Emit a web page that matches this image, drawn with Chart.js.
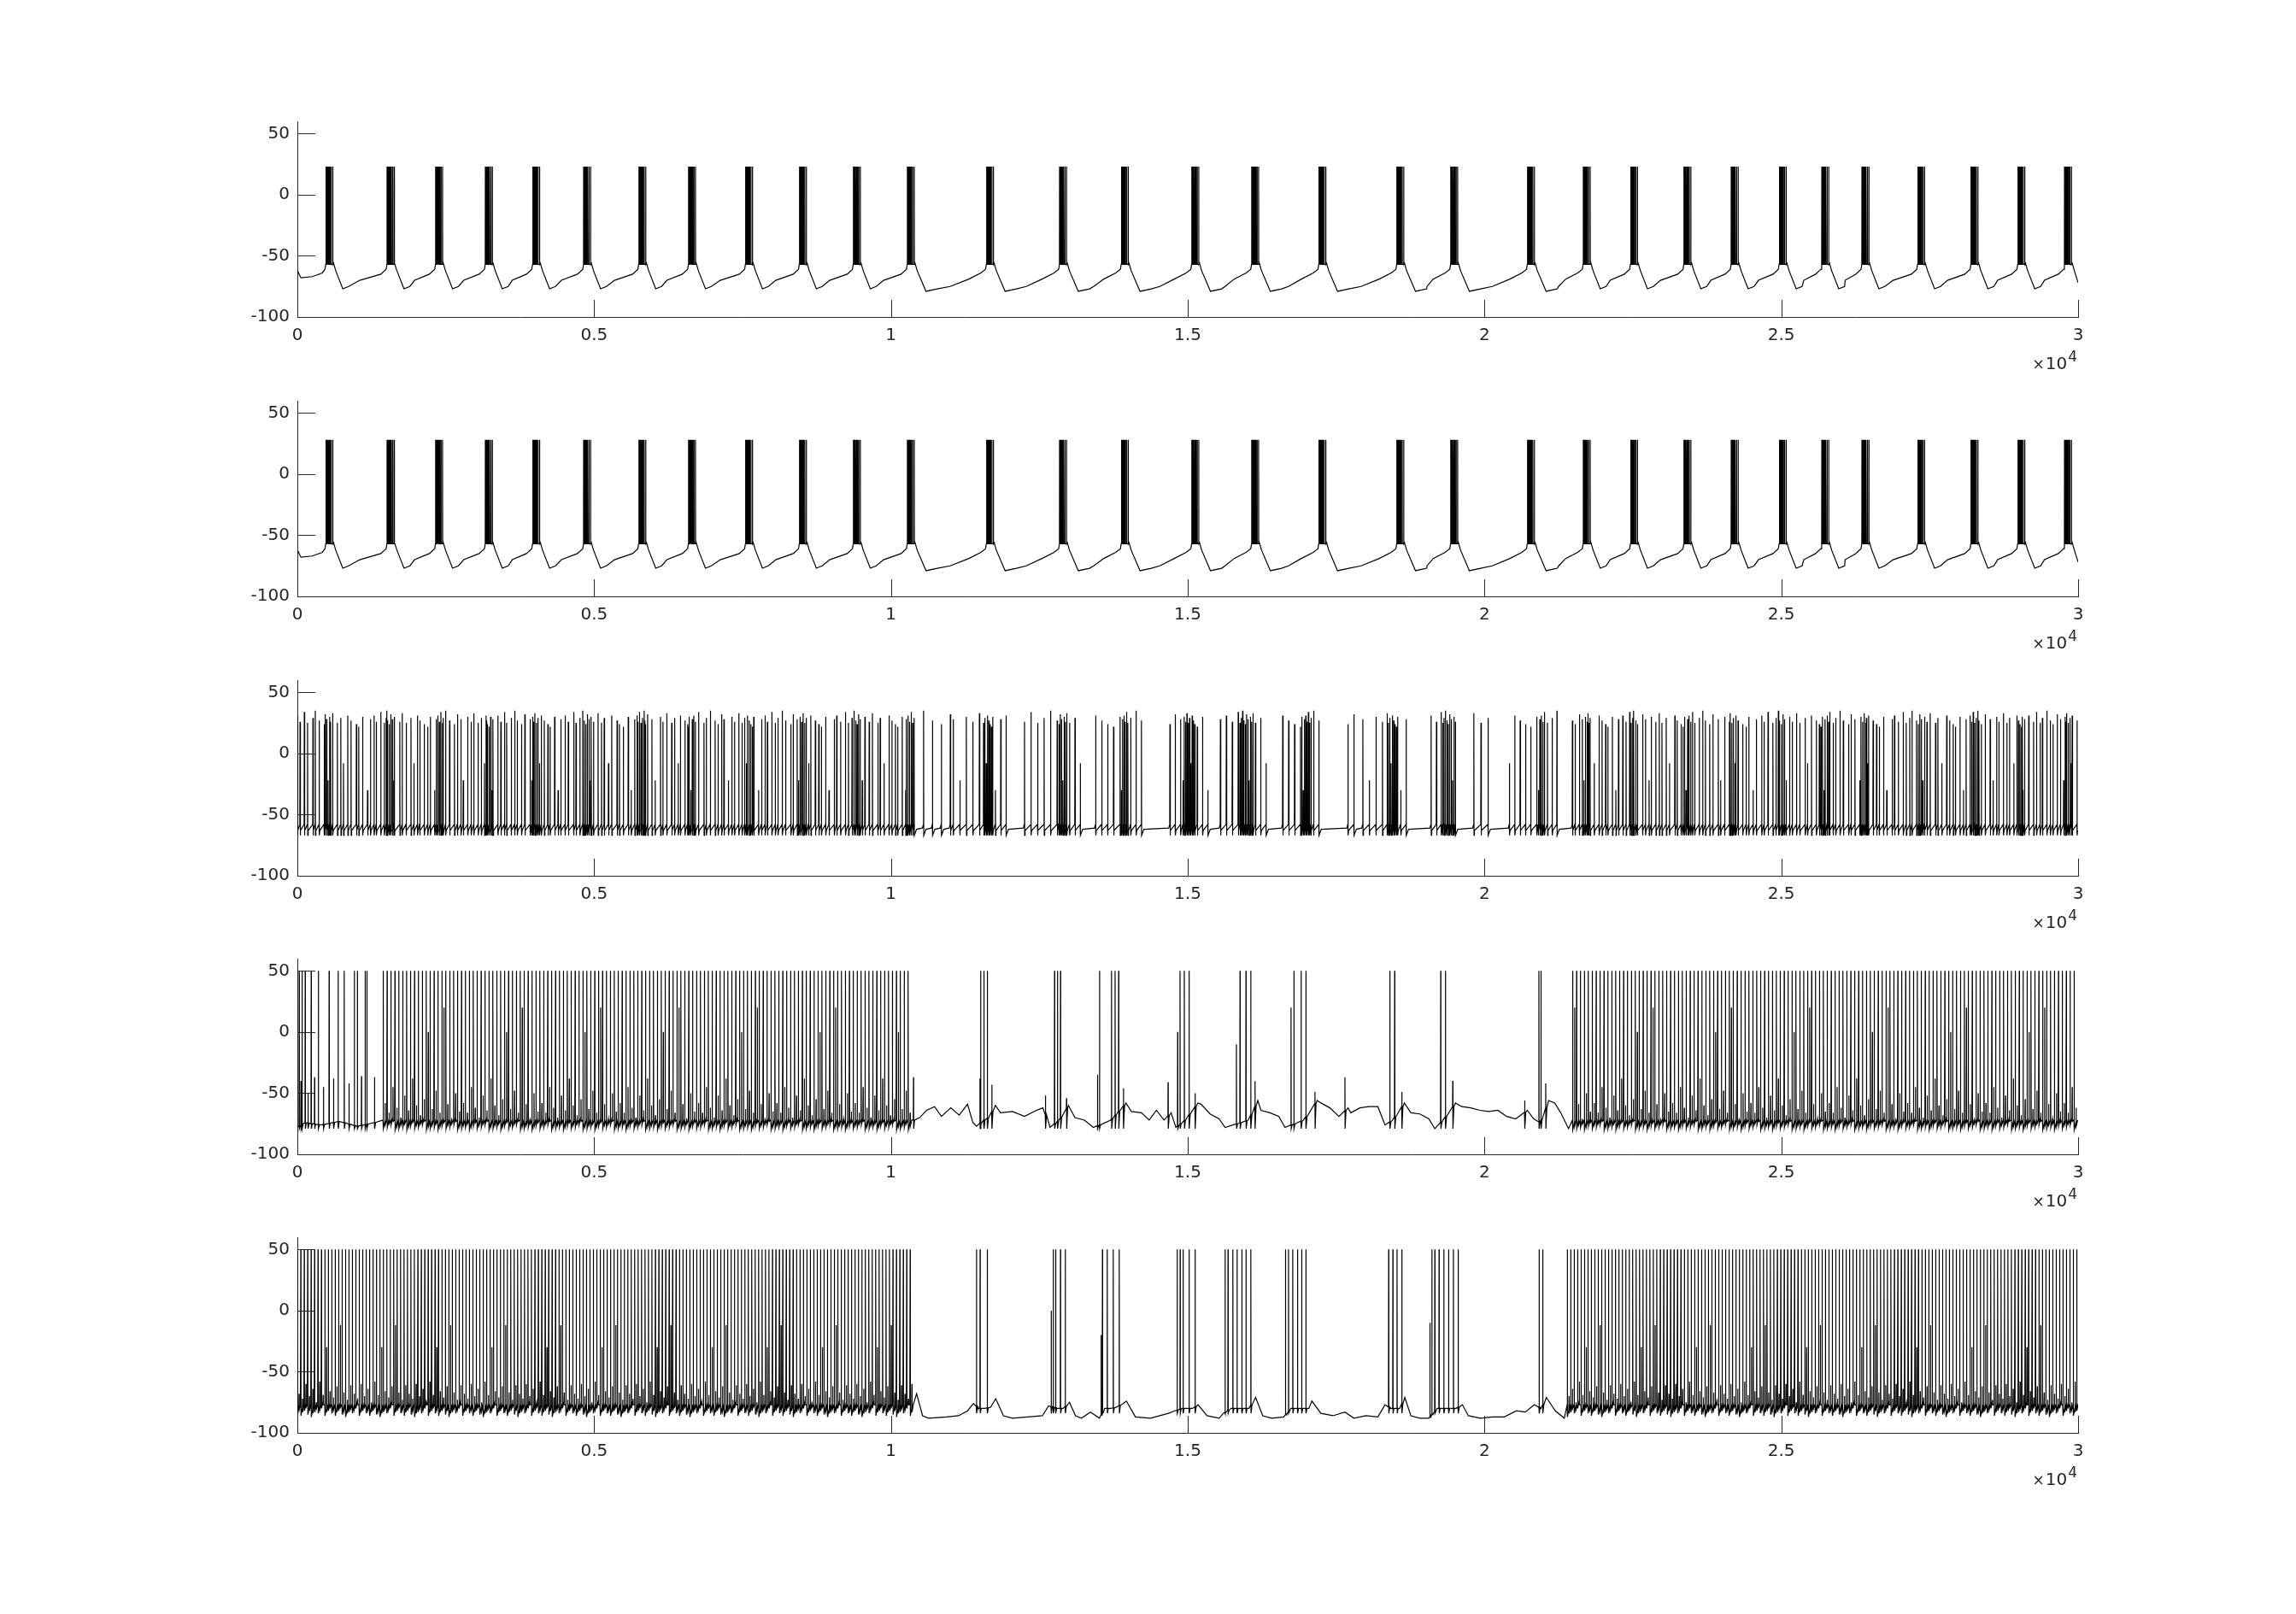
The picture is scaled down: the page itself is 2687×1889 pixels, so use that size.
<!DOCTYPE html>
<html>
<head>
<meta charset="utf-8">
<script src="https://cdn.jsdelivr.net/npm/chart.js@4.4.1/dist/chart.umd.min.js"></script>
<style>
html,body{margin:0;padding:0;background:#fff;}
#wrap{position:relative;width:2687px;height:1889px;overflow:hidden;background:#fff;}
canvas{position:absolute;left:0;}
</style>
</head>
<body>
<div id="wrap"></div>
<script>
// ---------------- DATA ----------------
const X_TICKS = [0, 5000, 10000, 15000, 20000, 25000, 30000];
const X_TICK_LABELS = ['0', '0.5', '1', '1.5', '2', '2.5', '3'];
const Y_TICKS = [-100, -50, 0, 50];
const X_MIN = 0, X_MAX = 30000, Y_MIN = -100, Y_MAX = 60;
const EXPONENT = '4';

// Panels 1 & 2: burst onset times (ms)
const BURSTS_1 = [535, 1566, 2384, 3222, 4019, 4878, 5807, 6645, 7605, 8513, 9422, 10331, 11664, 12896, 13936, 15123, 16132, 17264, 18577, 19485, 20778, 21718, 22515, 23414, 24211, 25020, 25737, 26413, 27352, 28250, 29039, 29826];
const BURSTS_2 = [535, 1566, 2384, 3222, 4019, 4878, 5807, 6645, 7605, 8513, 9422, 10331, 11664, 12896, 13936, 15123, 16132, 17264, 18577, 19485, 20778, 21718, 22515, 23414, 24211, 25020, 25737, 26413, 27352, 28250, 29039, 29826];
const SLOW_RANGE_12 = [10300, 20800];
const BURST_OFFSETS = [-55, -47, -39, -31, -23, -15, -7, 3, 16, 36, 62];
const BURST_PEAKS_1 = [23, 23, 23, 23, 23, -15, 23, 23, 23, 23, 23];
const BURST_PEAKS_2 = [28, 28, 28, 28, 28, -12, 28, 28, 28, 28, 28];

// Panel 3: spike segments [start, end, inter-spike interval(s)]
const ISI_DENSE_3 = [45, 72, 55, 90, 40, 66, 82, 50, 60, 38, 76, 58];
const SEGS_3 = [
  [0, 10400, ISI_DENSE_3],
  [10550, 11000, 150], [11050, 11500, 110], [11560, 11720, 22], [11760, 11980, 90],
  [12250, 12800, 110], [12830, 12970, 22], [13010, 13200, 90],
  [13450, 13830, 100], [13860, 14000, 22], [14040, 14300, 90],
  [14700, 14900, 90], [14920, 15120, 22], [15160, 15350, 90],
  [15550, 15850, 100], [15880, 16100, 22], [16140, 16350, 90],
  [16600, 16880, 100], [16900, 17090, 22], [17120, 17260, 90],
  [17700, 17800, 100], [17950, 18340, 110], [18360, 18550, 22], [18590, 18720, 90],
  [19100, 19250, 90], [19270, 19510, 24], [19820, 20080, 120],
  [20420, 20860, 90], [20880, 21020, 26], [21060, 21240, 80],
  [21480, 30000, ISI_DENSE_3]
];
const CORE_TIMES_3 = [535, 1566, 2384, 3222, 4019, 4878, 5807, 6645, 7605, 8513, 9422, 10331, 21718, 22515, 23414, 24211, 25020, 25737, 26413, 27352, 28250, 29039, 29826];
const PEAKS_3 = [31, 26, 34, 25, 29, 35, 27, 24, 32, 28, -22, 30, 26, 33, 25, 29, -8, 31, 27, 24, 22, 30, -30, 28];

// Panel 4
const TONIC_4 = [[1446, 10330, 66], [21485, 29990, 66]];
const EXTRA_4 = [31, 81, 132, 233, 354, 535, 687, 789, 960, 1011, 1142, 1172,
  11513, 11568, 11624, 12756, 12806, 12857, 13514, 13716, 13776, 13836,
  14870, 14942, 15023, 15881, 15981, 16062, 16789, 16910, 16991, 18405, 18486, 19262, 19342, 20916, 20951];
const PARTIALS_4 = [[60, -40], [180, -50], [290, -37], [440, -45], [610, -38], [870, -42], [1080, -36], [1300, -37],
  [10380, -37], [11500, -38], [11700, -43], [12603, -52], [12958, -54], [13480, -35], [13917, -46], [14669, -41],
  [14830, 0], [15124, -50], [15820, -10], [16133, -40], [16740, 20], [17143, -49], [17648, -37], [18607, -49],
  [19465, -40], [20677, -56], [21031, -42]];
const BASE_4 = [[0, -78], [100, -74], [400, -76], [700, -73], [1000, -77], [1300, -74],
  [10400, -72], [10483, -70], [10600, -64], [10735, -61], [10850, -69], [11009, -62], [11150, -68], [11290, -59],
  [11380, -74], [11441, -77], [11560, -72], [11640, -70], [11760, -60], [11846, -66], [12048, -65], [12250, -69],
  [12452, -64], [12560, -62], [12680, -78], [12830, -72], [12990, -60], [13100, -70], [13260, -72], [13411, -78],
  [13700, -72], [13960, -58], [14050, -65], [14220, -66], [14350, -72], [14472, -64], [14600, -72], [14720, -66],
  [14800, -78], [14950, -72], [15170, -58], [15225, -59], [15376, -67], [15528, -71], [15629, -78], [16020, -72],
  [16180, -56], [16234, -64], [16385, -66], [16536, -69], [16637, -78], [16950, -72], [17180, -56], [17244, -58],
  [17395, -62], [17547, -69], [17700, -62], [17749, -66], [17900, -62], [18052, -61], [18203, -61], [18324, -76],
  [18450, -72], [18650, -58], [18759, -66], [18910, -67], [19062, -71], [19163, -79], [19300, -72], [19510, -58],
  [19617, -61], [19768, -62], [19920, -64], [20071, -65], [20223, -64], [20374, -69], [20526, -71], [20720, -64],
  [20829, -71], [20935, -74], [21080, -56], [21183, -58], [21284, -66], [21415, -79]];
const BUMPS_4 = [-58, -66, -45, -62, -70, -52, -64, -38, -60, -68, -55, 0, -63, -48, -66, 20, -59, -71, -50, -65];
const AHP_4 = [-79, -78, -80, -77, -79, -78, -76, -80];

// Panel 5
const TONIC_5 = [[0, 10330, 58], [21395, 29990, 58]];
const EXTRA_5 = [11441, 11502, 11623, 12735, 12775, 12856, 12937, 13563, 13644, 13745, 13846,
  14822, 14872, 14922, 15023, 15124, 15629, 15679, 15760, 15831, 15912, 15982, 16063,
  16647, 16698, 16769, 16850, 16920, 16991, 18385, 18456, 18526, 18607,
  19113, 19163, 19234, 19314, 19395, 19476, 19556, 20920, 20981];
const PARTIALS_5 = [[13540, -20], [12700, 0], [19080, -10]];
const BASE_5 = [[10382, -78], [10432, -68], [10533, -86], [10634, -88], [10937, -87], [11139, -86], [11290, -82],
  [11391, -76], [11470, -80], [11580, -80], [11680, -79], [11765, -72], [11896, -86], [12048, -88], [12553, -86],
  [12654, -78], [12800, -80], [12900, -80], [13008, -75], [13109, -86], [13210, -88], [13361, -83], [13513, -88],
  [13600, -80], [13700, -80], [13800, -79], [13967, -74], [14119, -87], [14371, -88], [14674, -84], [14780, -82],
  [14900, -80], [15080, -80], [15174, -77], [15325, -86], [15528, -88], [15600, -84], [15730, -80], [15870, -80],
  [16030, -80], [16143, -71], [16264, -86], [16416, -88], [16617, -87], [16735, -80], [16890, -80], [17040, -80],
  [17092, -74], [17244, -84], [17446, -86], [17648, -83], [17799, -88], [18001, -86], [18203, -87], [18324, -77],
  [18420, -80], [18570, -80], [18657, -71], [18759, -86], [18910, -88], [19062, -88], [19200, -80], [19350, -80],
  [19520, -80], [19627, -77], [19728, -86], [19930, -88], [20132, -87], [20334, -87], [20536, -82], [20687, -83],
  [20839, -77], [20950, -80], [21041, -71], [21193, -82], [21344, -88]];
const BUMPS_5 = [-68, -72, -60, -70, -64, -75, -58, -69, -30, -66, -71, -62, -12, -67, -73, -61];
const AHP_5 = [-84, -86, -82, -85, -87, -83, -84, -80, -86, -82];

// ---------------- BUILDERS ----------------
function expand(segs) {
  const out = [];
  segs.forEach(([a, b, isi]) => {
    let k = 0;
    for (let t = a; t <= b; ) {
      out.push(t);
      t += Array.isArray(isi) ? isi[k++ % isi.length] : isi;
    }
  });
  return out;
}
function keyAt(keys, t) {
  if (t <= keys[0][0]) return keys[0][1];
  for (let i = 1; i < keys.length; i++) {
    if (t <= keys[i][0]) {
      const [t0, v0] = keys[i - 1], [t1, v1] = keys[i];
      return v0 + (v1 - v0) * (t - t0) / (t1 - t0);
    }
  }
  return keys[keys.length - 1][1];
}

function buildBursting(bursts, peaks) {
  const pts = [{x: 0, y: -62}, {x: 60, y: -68}, {x: 250, y: -67}, {x: 420, y: -64}];
  bursts.forEach((tb, i) => {
    pts.push({x: tb - 70, y: -61});
    BURST_OFFSETS.forEach((o, k) => {
      const t = tb + o;
      pts.push({x: t - 2, y: -57}, {x: t, y: peaks[k]}, {x: t + 2, y: -57});
    });
    pts.push({x: tb + 75, y: -56}, {x: tb + 110, y: -62});
    const tn = bursts[i + 1];
    if (tn === undefined) { pts.push({x: X_MAX, y: -72}); return; }
    const slow = tb >= SLOW_RANGE_12[0] && tb < SLOW_RANGE_12[1];
    if (slow) {
      pts.push({x: tb + 260, y: -79}, {x: tb + 450, y: -77}, {x: (tb + tn) / 2, y: -75},
               {x: tn - 350, y: -69}, {x: tn - 150, y: -64});
    } else {
      pts.push({x: tb + 230, y: -77}, {x: tb + 330, y: -75}, {x: (tb + tn) / 2, y: -70}, {x: tn - 160, y: -65});
    }
  });
  return pts;
}

function buildPanel3() {
  const cores = CORE_TIMES_3.map(t => [t - 70, t + 70, 26]);
  const all = [...expand(SEGS_3), ...expand(cores)].sort((a, b) => a - b);
  const ts = [];
  all.forEach(t => { if (!ts.length || t - ts[ts.length - 1] >= 10) ts.push(t); });
  const pts = [{x: 0, y: -62}];
  ts.forEach((t, i) => {
    const pk = PEAKS_3[i % PEAKS_3.length];
    pts.push({x: t - 3, y: -58}, {x: t, y: pk}, {x: t + 3, y: -67});
    const tn = i + 1 < ts.length ? ts[i + 1] : X_MAX;
    if (tn - t > 120) pts.push({x: t + 40, y: -62}, {x: tn - 20, y: -61});
    else pts.push({x: t + 10, y: -63});
  });
  return pts;
}

function buildTonic(cfg) {
  const events = [];
  expand(cfg.tonic).forEach(t => events.push({t, tonic: true}));
  cfg.extra.forEach(t => events.push({t, tonic: false, pk: 50}));
  cfg.partials.forEach(([t, pk]) => events.push({t, tonic: false, pk}));
  events.sort((a, b) => a.t - b.t);
  const spikePts = [];
  const windows = [];
  let k = 0;
  events.forEach((e, i) => {
    const ahp = cfg.ahp[i % cfg.ahp.length];
    if (e.tonic) {
      const bump = cfg.bumps[k % cfg.bumps.length]; k++;
      const h = cfg.half;
      spikePts.push({x: e.t - 3, y: cfg.foot}, {x: e.t, y: 50}, {x: e.t + 3, y: ahp},
        {x: e.t + h - 4, y: ahp + 6}, {x: e.t + h, y: bump}, {x: e.t + h + 3, y: ahp + 3},
        {x: e.t + 2 * h - 6, y: cfg.foot});
      windows.push([e.t - 4, e.t + 2 * h]);
    } else {
      const f = keyAt(cfg.base, e.t);
      spikePts.push({x: e.t - 3, y: f}, {x: e.t, y: e.pk}, {x: e.t + 3, y: cfg.clusterAhp}, {x: e.t + 18, y: f});
      windows.push([e.t - 5, e.t + 20]);
    }
  });
  const basePts = cfg.base.filter(([t]) => !windows.some(([a, b]) => t >= a && t <= b)).map(([t, v]) => ({x: t, y: v}));
  const pts = [...spikePts, ...basePts];
  pts.sort((a, b) => a.x - b.x);
  return pts;
}

const TRACE_1 = buildBursting(BURSTS_1, BURST_PEAKS_1);
const TRACE_2 = buildBursting(BURSTS_2, BURST_PEAKS_2);
const TRACE_3 = buildPanel3();
const TRACE_4 = buildTonic({tonic: TONIC_4, extra: EXTRA_4, partials: PARTIALS_4, base: BASE_4,
  bumps: BUMPS_4, ahp: AHP_4, foot: -72, half: 33, clusterAhp: -79});
const TRACE_5 = buildTonic({tonic: TONIC_5, extra: EXTRA_5, partials: PARTIALS_5, base: BASE_5,
  bumps: BUMPS_5, ahp: AHP_5, foot: -77, half: 29, clusterAhp: -84});
const TRACES = [TRACE_1, TRACE_2, TRACE_3, TRACE_4, TRACE_5];

// ---------------- LAYOUT ----------------
const W = 2687;
const PANEL_BOTTOMS = [371, 698, 1025, 1351, 1677];
const PLOT_LEFT = 348, PLOT_RIGHT = 2432, PLOT_H = 229;
const PAD_TOP = 12, X_AXIS_H = 80;
const AXIS_COLOR = '#262626';
const FONT = 'DejaVu Sans';
const TICK_LEN = 21;

const matlabAxes = {
  id: 'matlabAxes',
  afterDraw(chart) {
    const {ctx, chartArea: ca, scales: {x, y}} = chart;
    ctx.save();
    ctx.strokeStyle = AXIS_COLOR;
    ctx.lineWidth = 1;
    ctx.beginPath();
    X_TICKS.forEach(v => {
      const px = Math.round(x.getPixelForValue(v)) + 0.5;
      ctx.moveTo(px, ca.bottom); ctx.lineTo(px, ca.bottom - TICK_LEN + 1);
    });
    Y_TICKS.forEach(v => {
      const py = Math.round(y.getPixelForValue(v)) + 0.5;
      ctx.moveTo(ca.left, py); ctx.lineTo(ca.left + TICK_LEN, py);
    });
    ctx.stroke();
    ctx.fillStyle = AXIS_COLOR;
    ctx.textBaseline = 'alphabetic';
    const base = ca.bottom + 61;
    ctx.font = '17px "' + FONT + '"';
    const w4 = ctx.measureText(EXPONENT).width;
    const wx = ctx.measureText('\u00d7').width;
    ctx.font = '20px "' + FONT + '"';
    const w10 = ctx.measureText('10').width;
    const right = ca.right - 1;
    const x4 = right - w4;
    const x10 = x4 - w10 - 1;
    const xx = x10 - wx - 1;
    ctx.fillText('10', x10, base);
    ctx.font = '17px "' + FONT + '"';
    ctx.fillText(EXPONENT, x4, base - 9);
    ctx.fillText('\u00d7', xx, base);
    ctx.restore();
  }
};

function makeConfig(trace) {
  return {
    type: 'line',
    data: {datasets: [{data: trace, borderColor: '#000', borderWidth: 1.2, pointRadius: 0,
      tension: 0, fill: false, borderJoinStyle: 'miter'}]},
    options: {
      responsive: false, maintainAspectRatio: false, animation: false, devicePixelRatio: 1,
      parsing: false, events: [],
      layout: {padding: {top: PAD_TOP, right: W - PLOT_RIGHT, left: 0, bottom: 0}},
      plugins: {legend: {display: false}, tooltip: {enabled: false}, decimation: {enabled: false}},
      scales: {
        x: {
          type: 'linear', min: X_MIN, max: X_MAX,
          afterBuildTicks: s => { s.ticks = X_TICKS.map(v => ({value: v})); },
          afterFit: s => { s.height = X_AXIS_H; },
          ticks: {callback: v => X_TICK_LABELS[X_TICKS.indexOf(v)], autoSkip: false, maxRotation: 0, minRotation: 0,
            padding: 10, color: AXIS_COLOR, font: {family: FONT, size: 20}},
          grid: {display: false, drawTicks: false},
          border: {display: true, color: AXIS_COLOR, width: 1}
        },
        y: {
          type: 'linear', min: Y_MIN, max: Y_MAX,
          afterBuildTicks: s => { s.ticks = Y_TICKS.map(v => ({value: v})); },
          afterFit: s => { s.width = PLOT_LEFT; },
          ticks: {callback: v => String(v), autoSkip: false, padding: 9, color: AXIS_COLOR,
            font: {family: FONT, size: 20}},
          grid: {display: false, drawTicks: false},
          border: {display: true, color: AXIS_COLOR, width: 1}
        }
      }
    },
    plugins: [matlabAxes]
  };
}

const wrap = document.getElementById('wrap');
TRACES.forEach((trace, i) => {
  // first pass: measure the chart area the layout gives, then size the canvas so the plot box matches
  let h = PAD_TOP + PLOT_H + X_AXIS_H;
  let c = document.createElement('canvas');
  c.width = W; c.height = h; c.style.width = W + 'px'; c.style.height = h + 'px';
  wrap.appendChild(c);
  let chart = new Chart(c, makeConfig(trace));
  const ca = chart.chartArea;
  const d = PLOT_H - (ca.bottom - ca.top);
  const topOff = ca.top;
  chart.destroy();
  wrap.removeChild(c);
  h = Math.round(h + d);
  c = document.createElement('canvas');
  c.width = W; c.height = h; c.style.width = W + 'px'; c.style.height = h + 'px';
  c.style.top = Math.round(PANEL_BOTTOMS[i] - PLOT_H - topOff) + 'px';
  wrap.appendChild(c);
  new Chart(c, makeConfig(trace));
});
</script>
</body>
</html>
